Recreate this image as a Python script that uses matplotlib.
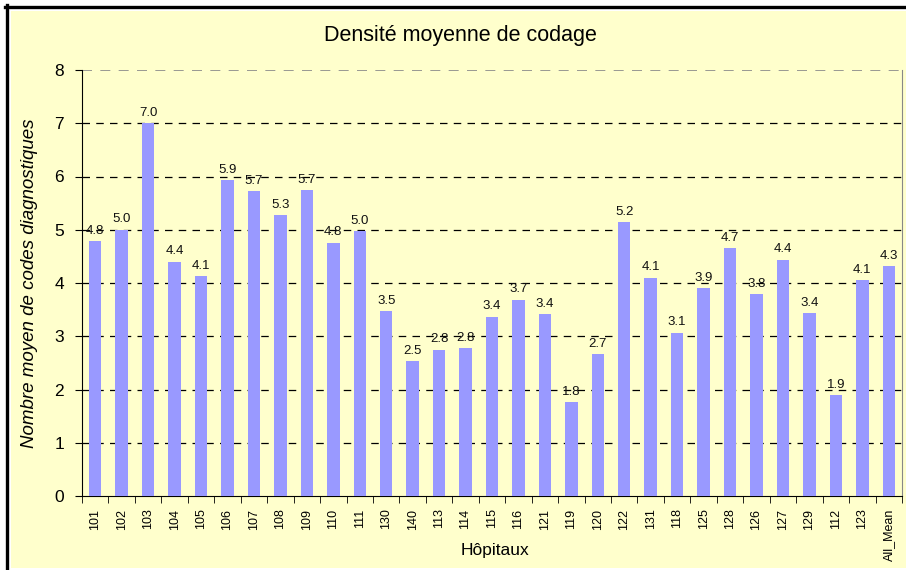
import matplotlib.pyplot as plt
from matplotlib.patches import Rectangle
from matplotlib.lines import Line2D

plt.rcParams["font.family"] = ["Liberation Sans", "DejaVu Sans"]

hospitals = ["101", "102", "103", "104", "105", "106", "107", "108", "109", "110",
             "111", "130", "140", "113", "114", "115", "116", "121", "119", "120",
             "122", "131", "118", "125", "128", "126", "127", "129", "112", "123",
             "All_Mean"]
density = [4.78, 5.00, 7.00, 4.40, 4.13, 5.93, 5.72, 5.27, 5.74, 4.76,
           4.97, 3.47, 2.53, 2.75, 2.78, 3.37, 3.69, 3.41, 1.76, 2.66,
           5.15, 4.10, 3.07, 3.90, 4.66, 3.79, 4.44, 3.44, 1.89, 4.06,
           4.31]

W, H = 906, 570
fig = plt.figure(figsize=(W / 100, H / 100), dpi=100)
fig.patch.set_facecolor("white")


def fx(px):
    return px / W


def fy(py):
    return 1 - py / H


# yellow panel, black frame only on top and left (cut off like the original)
fig.patches.append(Rectangle((fx(11), fy(568)), fx(W), (568 - 11) / H,
                             transform=fig.transFigure, facecolor="#FFFFCC",
                             edgecolor="none", zorder=-5))
fig.lines.append(Line2D([fx(6.5), fx(6.5)], [fy(5), fy(H + 5)], color="black",
                        linewidth=2.4, transform=fig.transFigure, zorder=-4))
fig.lines.append(Line2D([fx(5), fx(W + 5)], [fy(6.5), fy(6.5)], color="black",
                        linewidth=2.4, transform=fig.transFigure, zorder=-4))

left, right, top, bottom = 82, 902, 70, 496
ax = fig.add_axes([fx(left), fy(bottom), (right - left) / W, (bottom - top) / H])
ax.patch.set_alpha(0)

x = range(len(hospitals))
ax.bar(x, density, width=0.47, color="#9999FF", zorder=3)
for xi, v in zip(x, density):
    ax.text(xi, v + 0.08, f"{v:.1f}", ha="center", va="bottom", fontsize=9.5,
            color="#111111", zorder=4)

ax.set_xlim(-0.5, len(hospitals) - 0.5)
ax.set_ylim(0, 8)
ax.set_yticks(range(0, 9))
ax.set_xticks(list(x))
ax.set_xticklabels(hospitals, rotation=90, fontsize=9)
ax.tick_params(axis="y", labelsize=12.5, length=5, pad=8, direction="out")
# ticks between categories
ax.set_xticks([i - 0.5 for i in range(len(hospitals) + 1)], minor=True)
ax.tick_params(axis="x", which="major", length=0, pad=9)
ax.tick_params(axis="x", which="minor", length=5)

for y in range(1, 8):
    ax.axhline(y, color="black", linestyle=(0, (6, 5)), linewidth=0.9, zorder=1)
ax.axhline(8, color="#888888", linestyle=(0, (6, 5)), linewidth=1.2, zorder=1)

ax.spines["top"].set_visible(False)
ax.spines["right"].set_color("#888888")
ax.spines["left"].set_color("black")
ax.spines["bottom"].set_color("black")

ax.set_ylabel("Nombre moyen de codes diagnostiques", fontsize=13.5, style="italic",
              labelpad=12)
fig.text(fx(495), fy(551), "Hôpitaux", ha="center", va="center", fontsize=12.5)
fig.text(fx(460), fy(35), "Densité moyenne de codage", ha="center",
         va="center", fontsize=15.5)

fig.savefig("out.png", dpi=100)
